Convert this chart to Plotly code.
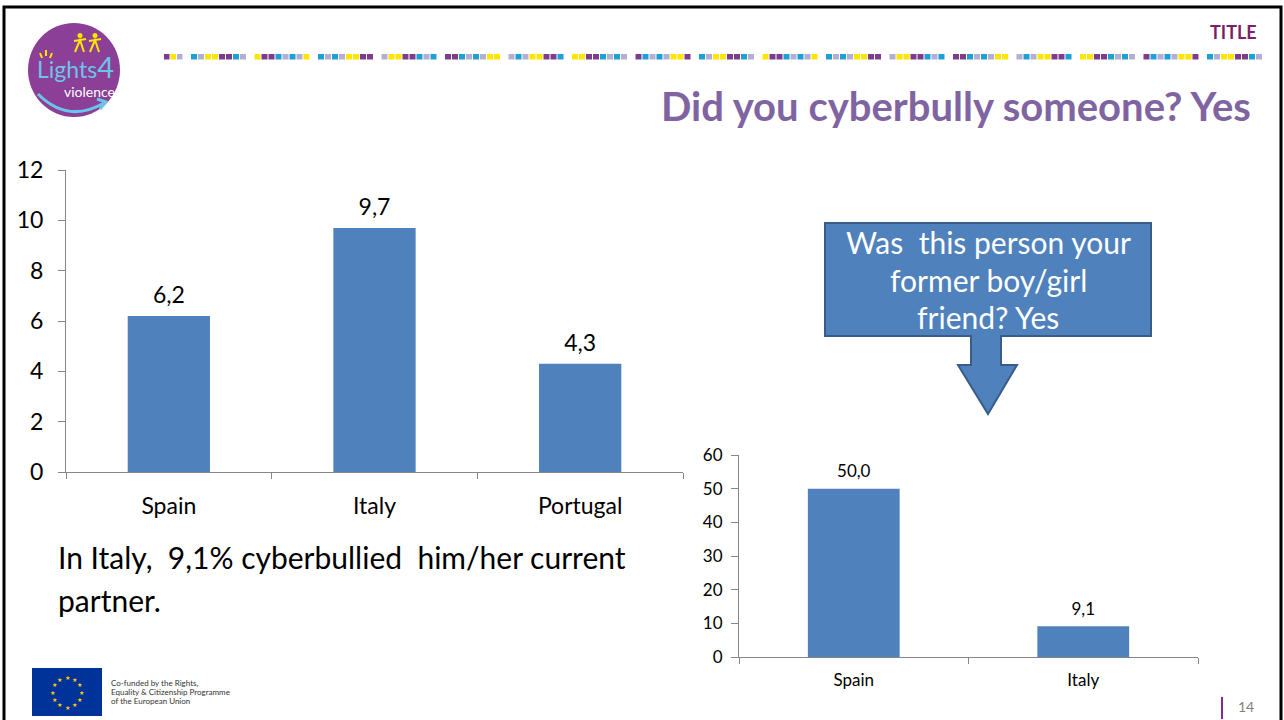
import math
import plotly.graph_objects as go

# ---------------- data ----------------
countries_all = ["Spain", "Italy", "Portugal"]
cyberbully_yes = [6.2, 9.7, 4.3]

countries_ex = ["Spain", "Italy"]
former_partner_yes = [50.0, 9.1]

y1_ticks = [0, 2, 4, 6, 8, 10, 12]
y2_ticks = [0, 10, 20, 30, 40, 50, 60]

# ---------------- helpers ----------------
W, H = 1284, 720
def px(x):
    return x / W
def py(y):
    return 1 - y / H
def path_px(points, close=True):
    s = "M " + " L ".join(f"{px(x):.5f},{py(y):.5f}" for x, y in points)
    return s + (" Z" if close else "")

FONT = "Lato, Carlito, 'Open Sans', sans-serif"
BAR = "#4F81BD"
AX = "#868686"

fig = go.Figure()

# chart 1
fig.add_trace(go.Bar(x=countries_all, y=cyberbully_yes, marker=dict(color=BAR, line=dict(width=0)),
                     xaxis="x", yaxis="y", showlegend=False, hoverinfo="skip"))
fig.add_trace(go.Scatter(x=countries_all, y=cyberbully_yes, mode="markers+text",
                         marker=dict(size=10, opacity=0), text=cyberbully_yes,
                         texttemplate="%{y:.1f}", textposition="top center",
                         textfont=dict(size=23, color="#000000", family=FONT),
                         xaxis="x", yaxis="y", showlegend=False, hoverinfo="skip", cliponaxis=False))
# chart 2
fig.add_trace(go.Bar(x=countries_ex, y=former_partner_yes, marker=dict(color=BAR, line=dict(width=0)),
                     xaxis="x2", yaxis="y2", showlegend=False, hoverinfo="skip"))
fig.add_trace(go.Scatter(x=countries_ex, y=former_partner_yes, mode="markers+text",
                         marker=dict(size=10, opacity=0), text=former_partner_yes,
                         texttemplate="%{y:.1f}", textposition="top center",
                         textfont=dict(size=17, color="#000000", family=FONT),
                         xaxis="x2", yaxis="y2", showlegend=False, hoverinfo="skip", cliponaxis=False))

common_x = dict(showline=True, linecolor=AX, linewidth=1, ticks="outside", tickson="boundaries",
                tickcolor=AX, ticklen=6, showgrid=False, zeroline=False, fixedrange=True, automargin=False)
common_y = dict(showline=True, linecolor=AX, linewidth=1, ticks="outside", tickcolor=AX, ticklen=7,
                showgrid=False, zeroline=False, fixedrange=True, automargin=False)

fig.update_layout(
    width=W, height=H, margin=dict(l=0, r=0, t=0, b=0, pad=0), autosize=False,
    paper_bgcolor="white", plot_bgcolor="rgba(0,0,0,0)",
    separators=",.", bargap=0.6,
    font=dict(family=FONT, color="#000000"),
    xaxis=dict(domain=[px(66), px(683)], anchor="y", range=[-0.5, 2.5],
               tickfont=dict(size=23, family=FONT, color="#000"), ticklabelstandoff=13, **common_x),
    yaxis=dict(domain=[py(472), py(170)], anchor="x", range=[0, 12], tickvals=y1_ticks,
               tickfont=dict(size=23, family=FONT, color="#000"), ticklabelstandoff=10, **common_y),
    xaxis2=dict(domain=[px(739), px(1198)], anchor="y2", range=[-0.5, 1.5],
                tickfont=dict(size=17, family=FONT, color="#000"), ticklabelstandoff=8, **common_x),
    yaxis2=dict(domain=[py(657), py(455)], anchor="x2", range=[0, 60], tickvals=y2_ticks,
                tickfont=dict(size=17, family=FONT, color="#000"), ticklabelstandoff=5, **common_y),
)

shapes = []
annos = []

# slide frame
shapes.append(dict(type="rect", xref="paper", yref="paper", x0=px(4), x1=px(1281), y0=py(740), y1=py(7),
                   line=dict(color="#000000", width=3), fillcolor="rgba(0,0,0,0)", layer="above"))

# decorative dashed line
deco_cols = ["#1E9FD6", "#B3AED3", "#FFE500", "#FFE500", "#7D3C8C", "#7D3C8C", "#1E9FD6", "#B3AED3"]
for i, c in enumerate(["#7D3C8C", "#FFE500", "#B3AED3"]):
    x0 = 164 + i * 6.5
    shapes.append(dict(type="rect", xref="paper", yref="paper", x0=px(x0), x1=px(x0 + 5.5),
                       y0=py(59.5), y1=py(54), line=dict(width=0), fillcolor=c, layer="above"))
g = 0
gx = 191
while gx < 1268:
    for i in range(8):
        c = deco_cols[(i + g * 3) % 8]
        x0 = gx + i * 7
        if x0 + 6 > 1270:
            break
        shapes.append(dict(type="rect", xref="paper", yref="paper", x0=px(x0), x1=px(x0 + 6),
                           y0=py(59.5), y1=py(54), line=dict(width=0), fillcolor=c, layer="above"))
    gx += 63.5
    g += 1

# logo
shapes.append(dict(type="circle", xref="paper", yref="paper", x0=px(28), x1=px(120), y0=py(117), y1=py(23),
                   line=dict(width=0), fillcolor="#8B3F96", layer="above"))
shapes.append(dict(type="path", xref="paper", yref="paper",
                   path=f"M {px(38):.5f},{py(94):.5f} Q {px(68):.5f},{py(124):.5f} {px(104):.5f},{py(103):.5f}",
                   line=dict(color="#6CC5E9", width=3), layer="above"))
shapes.append(dict(type="path", xref="paper", yref="paper",
                   path=path_px([(97, 99), (106, 102), (100, 109)], close=False),
                   line=dict(color="#6CC5E9", width=3), layer="above"))
for (xa, ya, xb, yb) in [(40, 53, 42, 58), (46, 50, 46, 56), (52, 53, 50, 58)]:
    shapes.append(dict(type="line", xref="paper", yref="paper", x0=px(xa), y0=py(ya), x1=px(xb), y1=py(yb),
                       line=dict(color="#FFE500", width=2), layer="above"))
# little yellow running figures
for cx in (80, 95):
    shapes.append(dict(type="circle", xref="paper", yref="paper", x0=px(cx - 2.5), x1=px(cx + 2.5),
                       y0=py(38), y1=py(33), line=dict(width=0), fillcolor="#FFE500", layer="above"))
    shapes.append(dict(type="path", xref="paper", yref="paper",
                       path=path_px([(cx - 6, 41), (cx, 40), (cx + 6, 39)], close=False),
                       line=dict(color="#FFE500", width=2), layer="above"))
    shapes.append(dict(type="path", xref="paper", yref="paper",
                       path=path_px([(cx - 5, 52), (cx, 40), (cx + 4, 52)], close=False),
                       line=dict(color="#FFE500", width=2), layer="above"))
annos.append(dict(x=px(75), y=py(66), xref="paper", yref="paper",
                  text="Lights<span style='font-size:29px'>4</span>", showarrow=False,
                  font=dict(size=23, color="#6CC5E9", family=FONT), xanchor="center", yanchor="middle"))
annos.append(dict(x=px(90), y=py(91), xref="paper", yref="paper", text="violence", showarrow=False,
                  font=dict(size=14, color="#FFFFFF", family=FONT), xanchor="center", yanchor="middle"))

# header texts
annos.append(dict(x=px(1259), y=py(32), xref="paper", yref="paper", text="<b>TITLE</b>", showarrow=False,
                  font=dict(size=18, color="#7B1F6A", family=FONT), xanchor="right", yanchor="middle"))
annos.append(dict(x=px(1253), y=py(106), xref="paper", yref="paper", text="<b>Did you cyberbully someone? Yes</b>",
                  showarrow=False, font=dict(size=40, color="#8064A2", family=FONT), xanchor="right", yanchor="middle"))

# callout
callout = [(825, 223), (1151, 223), (1151, 336), (1001, 336), (1001, 365), (1017, 365), (988, 414),
           (958, 365), (971, 365), (971, 336), (825, 336)]
shapes.append(dict(type="path", xref="paper", yref="paper", path=path_px(callout),
                   fillcolor=BAR, line=dict(color="#385D8A", width=2), layer="above"))
for txt, yy in [("Was\u00a0 this person your", 242), ("former boy/girl", 280), ("friend? Yes", 317)]:
    annos.append(dict(x=px(988), y=py(yy), xref="paper", yref="paper", text=txt, showarrow=False,
                      font=dict(size=30, color="#FFFFFF", family=FONT), xanchor="center", yanchor="middle"))

# body text
annos.append(dict(x=px(56), y=py(557), xref="paper", yref="paper",
                  text="In Italy,\u00a0 9,1% cyberbullied\u00a0 him/her current", showarrow=False,
                  font=dict(size=30, color="#000000", family=FONT), xanchor="left", yanchor="middle"))
annos.append(dict(x=px(56), y=py(600), xref="paper", yref="paper", text="partner.", showarrow=False,
                  font=dict(size=30, color="#000000", family=FONT), xanchor="left", yanchor="middle"))

# EU flag
shapes.append(dict(type="rect", xref="paper", yref="paper", x0=px(32), x1=px(102), y0=py(716), y1=py(668),
                   line=dict(width=0), fillcolor="#003399", layer="above"))
for k in range(12):
    a = 2 * math.pi * k / 12
    annos.append(dict(x=px(67 + 15 * math.sin(a)), y=py(692 - 15 * math.cos(a)), xref="paper", yref="paper",
                      text="★", showarrow=False, font=dict(size=6, color="#FFCC00"),
                      xanchor="center", yanchor="middle"))
for txt, yy in [("Co-funded by the Rights,", 683), ("Equality & Citizenship Programme", 692),
                ("of the European Union", 701)]:
    annos.append(dict(x=px(109), y=py(yy), xref="paper", yref="paper", text=txt, showarrow=False,
                      font=dict(size=8, color="#333333", family=FONT), xanchor="left", yanchor="middle"))

# page number
shapes.append(dict(type="line", xref="paper", yref="paper", x0=px(1222), x1=px(1222), y0=py(697), y1=py(719),
                   line=dict(color="#7B2C8E", width=2), layer="above"))
annos.append(dict(x=px(1236), y=py(706), xref="paper", yref="paper", text="14", showarrow=False,
                  font=dict(size=14, color="#808080", family=FONT), xanchor="left", yanchor="middle"))

fig.update_layout(shapes=shapes, annotations=annos)
fig.write_html("out.html", config={"displayModeBar": False},
               post_script="document.body.style.margin='0';document.body.style.overflow='hidden';")
